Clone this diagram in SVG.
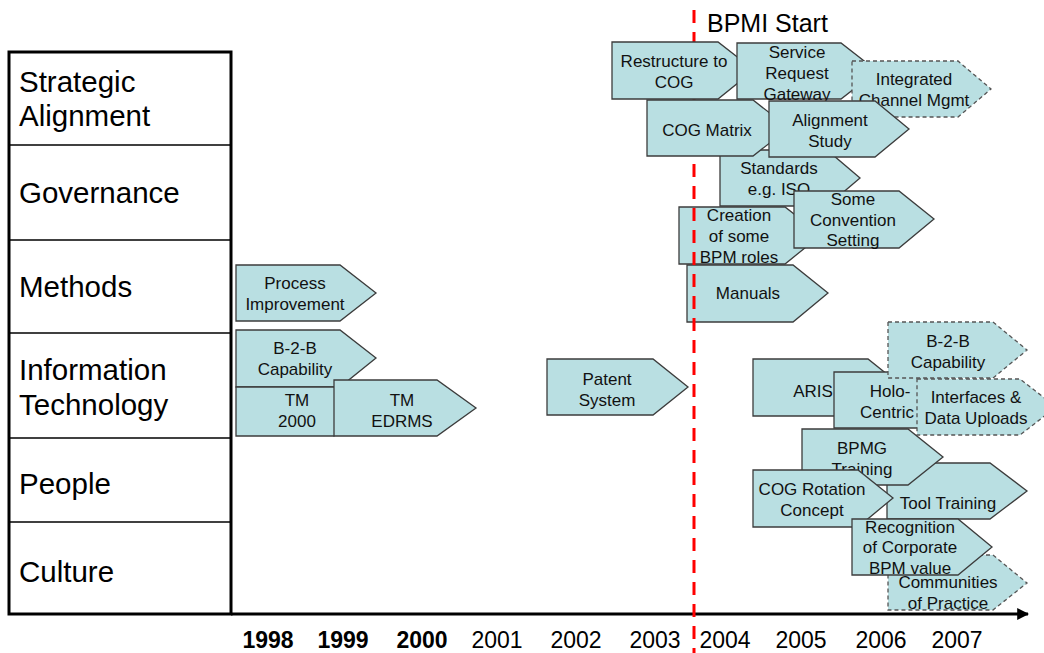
<svg xmlns="http://www.w3.org/2000/svg" width="1044" height="653" viewBox="0 0 1044 653">
  <defs>
    <style>
      .lbl { font-family: "Liberation Sans", Arial, sans-serif; font-size: 29.5px; fill: #000; }
      .yr { font-family: "Liberation Sans", Arial, sans-serif; font-size: 23px; fill: #000; text-anchor: middle; }
      .yb { font-weight: bold; }
      .nt { font-family: "Liberation Sans", Arial, sans-serif; font-size: 17px; fill: #111; text-anchor: middle; }
      .box { fill: #B9DFE2; stroke: #3C3C3C; stroke-width: 1.3; }
      .plan { fill: #B9DFE2; stroke: #555; stroke-width: 1.3; stroke-dasharray: 4 3; }
      .row { stroke: #000; stroke-width: 1.5; }
    </style>
    <marker id="axisHead" viewBox="0 0 10 10" refX="9" refY="5" markerWidth="4" markerHeight="4" orient="auto" markerUnits="strokeWidth">
      <path d="M0 0 L10 5 L0 10 Z" fill="#000"/>
    </marker>
  </defs>
  <rect width="1044" height="653" fill="#fff"/>

  <!-- dimension table -->
  <g id="dimensions">
    <rect x="9" y="52" width="222" height="562" fill="#fff" stroke="#000" stroke-width="3"/>
    <line class="row" x1="9" y1="145" x2="231" y2="145"/>
    <line class="row" x1="9" y1="240" x2="231" y2="240"/>
    <line class="row" x1="9" y1="333" x2="231" y2="333"/>
    <line class="row" x1="9" y1="438" x2="231" y2="438"/>
    <line class="row" x1="9" y1="522" x2="231" y2="522"/>
    <text class="lbl" x="19" y="92">Strategic</text>
    <text class="lbl" x="19" y="126">Alignment</text>
    <text class="lbl" x="19" y="203">Governance</text>
    <text class="lbl" x="19" y="297">Methods</text>
    <text class="lbl" x="19" y="380">Information</text>
    <text class="lbl" x="19" y="415">Technology</text>
    <text class="lbl" x="19" y="494">People</text>
    <text class="lbl" x="19" y="582">Culture</text>
  </g>

  <!-- time axis -->
  <g id="axis">
    <line x1="231" y1="614" x2="1028" y2="614" stroke="#000" stroke-width="3" marker-end="url(#axisHead)"/>
    <text class="yr yb" x="268" y="648">1998</text>
    <text class="yr yb" x="343" y="648">1999</text>
    <text class="yr yb" x="422" y="648">2000</text>
    <text class="yr" x="497" y="648">2001</text>
    <text class="yr" x="576" y="648">2002</text>
    <text class="yr" x="655" y="648">2003</text>
    <text class="yr" x="725" y="648">2004</text>
    <text class="yr" x="801" y="648">2005</text>
    <text class="yr" x="881" y="648">2006</text>
    <text class="yr" x="957" y="648">2007</text>
  </g>

  <!-- early initiatives -->
  <g id="process-improvement">
    <path class="box" d="M236 265 H340 L376 293 L340 321 H236 Z"/>
    <text class="nt" x="295" y="289">Process</text>
    <text class="nt" x="295" y="310">Improvement</text>
  </g>
  <g id="b2b-early">
    <path class="box" d="M236 330 H340 L376 358 L340 387 H236 Z"/>
    <text class="nt" x="295" y="354">B-2-B</text>
    <text class="nt" x="295" y="375">Capability</text>
  </g>
  <g id="tm-2000">
    <path class="box" d="M236 387 H334 L350 411 L334 436 H236 Z"/>
    <text class="nt" x="297" y="406">TM</text>
    <text class="nt" x="297" y="427">2000</text>
  </g>
  <g id="tm-edrms">
    <path class="box" d="M334 380 H437 L476 408 L437 436 H334 Z"/>
    <text class="nt" x="402" y="406">TM</text>
    <text class="nt" x="402" y="427">EDRMS</text>
  </g>
  <g id="patent-system">
    <path class="box" d="M547 359 H653 L688 387 L653 415 H547 Z"/>
    <text class="nt" x="607" y="385">Patent</text>
    <text class="nt" x="607" y="406">System</text>
  </g>

  <!-- methods (sit under the start marker) -->
  <g id="creation-roles">
    <path class="box" d="M679 207 H785 L821 235 L785 264 H679 Z"/>
    <text class="nt" x="739" y="221">Creation</text>
    <text class="nt" x="739" y="242">of some</text>
    <text class="nt" x="739" y="263">BPM roles</text>
  </g>
  <g id="manuals">
    <path class="box" d="M687 265 H793 L828 293 L793 322 H687 Z"/>
    <text class="nt" x="748" y="299">Manuals</text>
  </g>

  <!-- programme start marker -->
  <g id="bpmi-start">
    <line x1="694" y1="10" x2="694" y2="653" stroke="#FF0000" stroke-width="3" stroke-dasharray="13 9"/>
    <text x="707" y="32" font-family="Liberation Sans, Arial, sans-serif" font-size="25" fill="#000">BPMI Start</text>
  </g>

  <!-- strategic alignment / governance -->
  <g id="restructure-cog">
    <path class="box" d="M612 42 H718 L754 70 L718 99 H612 Z"/>
    <text class="nt" x="674" y="67">Restructure to</text>
    <text class="nt" x="674" y="88">COG</text>
  </g>
  <g id="service-request-gateway">
    <path class="box" d="M737 43 H841 L877 71 L841 99 H737 Z"/>
    <text class="nt" x="797" y="58">Service</text>
    <text class="nt" x="797" y="79">Request</text>
    <text class="nt" x="797" y="100">Gateway</text>
  </g>
  <g id="integrated-channel">
    <path class="plan" d="M852 61 H958 L991 89 L958 117 H852 Z"/>
    <text class="nt" x="914" y="85">Integrated</text>
    <text class="nt" x="914" y="106">Channel Mgmt</text>
  </g>
  <g id="standards">
    <path class="box" d="M720 150 H827 L860 178 L827 206 H720 Z"/>
    <text class="nt" x="779" y="174">Standards</text>
    <text class="nt" x="779" y="195">e.g. ISO</text>
  </g>
  <g id="cog-matrix">
    <path class="box" d="M647 100 H753 L789 128 L753 156 H647 Z"/>
    <text class="nt" x="707" y="136">COG Matrix</text>
  </g>
  <g id="alignment-study">
    <path class="box" d="M769 101 H875 L909 129 L875 157 H769 Z"/>
    <text class="nt" x="830" y="126">Alignment</text>
    <text class="nt" x="830" y="147">Study</text>
  </g>
  <g id="some-convention">
    <path class="box" d="M794 191 H899 L934 219 L899 248 H794 Z"/>
    <text class="nt" x="853" y="205">Some</text>
    <text class="nt" x="853" y="226">Convention</text>
    <text class="nt" x="853" y="246">Setting</text>
  </g>

  <!-- information technology -->
  <g id="aris">
    <path class="box" d="M753 359 H868 L903 387 L868 416 H753 Z"/>
    <text class="nt" x="813" y="397">ARIS</text>
  </g>
  <g id="holo-centric">
    <path class="box" d="M834 372 H940 L975 400 L940 428 H834 Z"/>
    <text class="nt" x="890" y="397">Holo-</text>
    <text class="nt" x="887" y="418">Centric</text>
  </g>
  <g id="b2b-later">
    <path class="plan" d="M888 322 H993 L1027 350 L993 378 H888 Z"/>
    <text class="nt" x="948" y="347">B-2-B</text>
    <text class="nt" x="948" y="368">Capability</text>
  </g>
  <g id="interfaces-uploads">
    <path class="plan" d="M917 379 H1020 L1056 407 L1020 435 H917 Z"/>
    <text class="nt" x="976" y="403">Interfaces &amp;</text>
    <text class="nt" x="976" y="424">Data Uploads</text>
  </g>

  <!-- people -->
  <g id="tool-training">
    <path class="box" d="M887 463 H990 L1027 491 L990 519 H887 Z"/>
    <text class="nt" x="948" y="509">Tool Training</text>
  </g>
  <g id="bpmg-training">
    <path class="box" d="M802 429 H908 L943 457 L908 485 H802 Z"/>
    <text class="nt" x="862" y="454">BPMG</text>
    <text class="nt" x="862" y="475">Training</text>
  </g>
  <g id="cog-rotation">
    <path class="box" d="M753 470 H858 L893 498 L858 527 H753 Z"/>
    <text class="nt" x="812" y="495">COG Rotation</text>
    <text class="nt" x="812" y="516">Concept</text>
  </g>

  <!-- culture -->
  <g id="communities-practice">
    <path class="plan" d="M888 555 H993 L1027 583 L993 610 H888 Z"/>
    <text class="nt" x="948" y="588">Communities</text>
    <text class="nt" x="948" y="609">of Practice</text>
  </g>
  <g id="corporate-value">
    <path class="box" d="M852 519 H958 L992 547 L958 575 H852 Z"/>
    <text class="nt" x="910" y="533">Recognition</text>
    <text class="nt" x="910" y="553">of Corporate</text>
    <text class="nt" x="910" y="574">BPM value</text>
  </g>

  <!-- no connectors between initiatives -->
  <g id="connectors"/>
</svg>
